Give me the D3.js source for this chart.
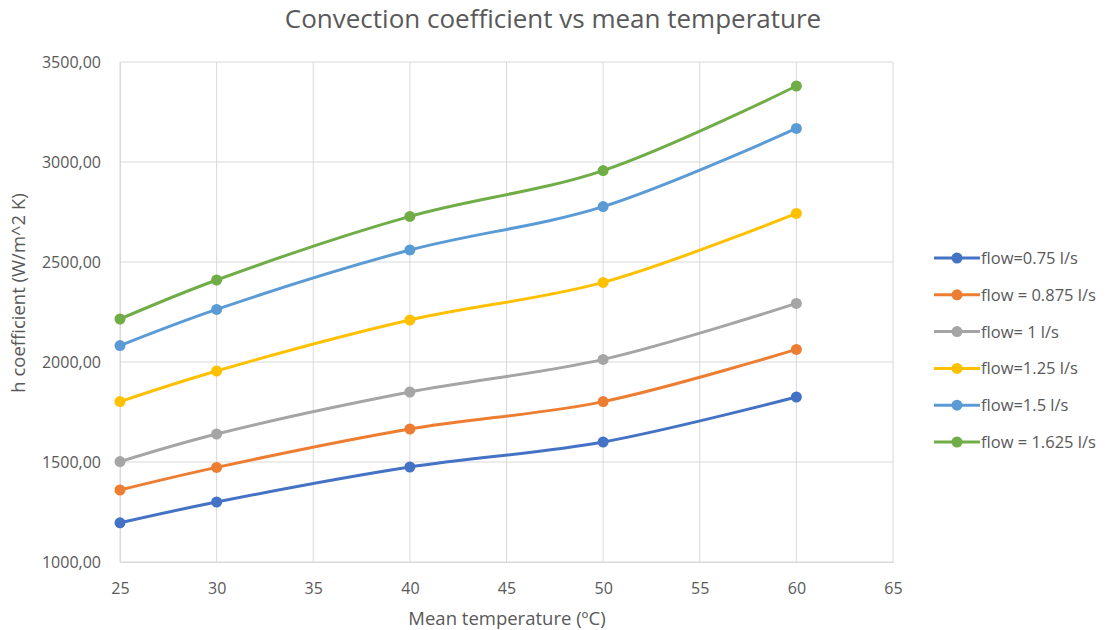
<!DOCTYPE html>
<html>
<head>
<meta charset="utf-8">
<script src="https://cdn.jsdelivr.net/npm/d3@7"></script>
<style>
  body { margin: 0; background: #fff; }
  text { font-family: "Open Sans", "Liberation Sans", sans-serif; }
</style>
</head>
<body>
<svg id="chart" width="1108" height="630"></svg>
<script>
// Mean temperatures (ºC) at which h was computed
const temperatures = [25, 30, 40, 50, 60];

// Convection coefficient h (W/m^2 K) for each flow rate
const flow075  = [1196, 1300, 1475, 1600, 1825];
const flow0875 = [1360, 1473, 1665, 1802, 2063];
const flow1    = [1502, 1640, 1850, 2013, 2293];
const flow125  = [1802, 1955, 2210, 2398, 2743];
const flow15   = [2082, 2263, 2560, 2777, 3168];
const flow1625 = [2215, 2410, 2728, 2957, 3380];

const seriesNames = ["flow=0.75 l/s", "flow = 0.875 l/s", "flow= 1 l/s",
                     "flow=1.25 l/s", "flow=1.5 l/s", "flow = 1.625 l/s"];
const seriesValues = [flow075, flow0875, flow1, flow125, flow15, flow1625];
const seriesColors = ["#4472C4", "#ED7D31", "#A5A5A5", "#FFC000", "#5B9BD5", "#70AD47"];

const xTicks = [25, 30, 35, 40, 45, 50, 55, 60, 65];
const yTicks = [1000, 1500, 2000, 2500, 3000, 3500];

const svg = d3.select("#chart");
const plot = { left: 120, right: 893, top: 62, bottom: 562 };

const x = d3.scaleLinear().domain([25, 65]).range([plot.left, plot.right]);
const y = d3.scaleLinear().domain([1000, 3500]).range([plot.bottom, plot.top]);

const fmt = v => d3.format(".2f")(v).replace(".", ",");

// gridlines
const grid = svg.append("g").attr("stroke", "#d9d9d9").attr("stroke-width", 1);
xTicks.forEach(t => grid.append("line")
  .attr("x1", x(t)).attr("x2", x(t)).attr("y1", plot.top).attr("y2", plot.bottom));
yTicks.forEach(t => grid.append("line")
  .attr("x1", plot.left).attr("x2", plot.right).attr("y1", y(t)).attr("y2", y(t)));

// axes
const xAxis = svg.append("g")
  .attr("transform", `translate(0,${plot.bottom})`)
  .call(d3.axisBottom(x).tickValues(xTicks).tickSize(0).tickPadding(21));
const yAxis = svg.append("g")
  .attr("transform", `translate(${plot.left},0)`)
  .call(d3.axisLeft(y).tickValues(yTicks).tickFormat(fmt).tickSize(0).tickPadding(19));
[xAxis, yAxis].forEach(a => {
  a.select(".domain").attr("stroke", "#d9d9d9");
  a.selectAll("text").attr("fill", "#595959").style("font-size", "16px")
    .style("font-family", "\"Open Sans\", sans-serif");
});

// titles
svg.append("text")
  .attr("x", 553).attr("y", 28).attr("text-anchor", "middle")
  .attr("fill", "#595959").style("font-size", "26px")
  .text("Convection coefficient vs mean temperature");
svg.append("text")
  .attr("x", 507).attr("y", 625).attr("text-anchor", "middle")
  .attr("fill", "#595959").style("font-size", "18.5px")
  .text("Mean temperature (ºC)");
svg.append("text")
  .attr("transform", "translate(25,293) rotate(-90)").attr("text-anchor", "middle")
  .attr("fill", "#595959").style("font-size", "18.5px")
  .text("h coefficient (W/m^2 K)");

// series
const line = d3.line()
  .x((d, i) => x(temperatures[i]))
  .y(d => y(d))
  .curve(d3.curveCatmullRom.alpha(0.5));

seriesValues.forEach((vals, s) => {
  const g = svg.append("g");
  g.append("path").datum(vals)
    .attr("d", line).attr("fill", "none")
    .attr("stroke", seriesColors[s]).attr("stroke-width", 3)
    .attr("stroke-linecap", "round");
  g.selectAll("circle").data(vals).join("circle")
    .attr("cx", (d, i) => x(temperatures[i])).attr("cy", d => y(d))
    .attr("r", 5.5).attr("fill", seriesColors[s]);
});

// legend
const legend = svg.append("g").attr("transform", "translate(934,258)");
seriesNames.forEach((name, s) => {
  const row = legend.append("g").attr("transform", `translate(0,${s * 36.8})`);
  row.append("line").attr("x1", 0).attr("x2", 46).attr("y1", 0).attr("y2", 0)
    .attr("stroke", seriesColors[s]).attr("stroke-width", 3);
  row.append("circle").attr("cx", 23).attr("cy", 0).attr("r", 5.5).attr("fill", seriesColors[s]);
  row.append("text").attr("x", 47).attr("y", 6)
    .attr("fill", "#595959").style("font-size", "16.5px").text(name);
});
</script>
</body>
</html>
